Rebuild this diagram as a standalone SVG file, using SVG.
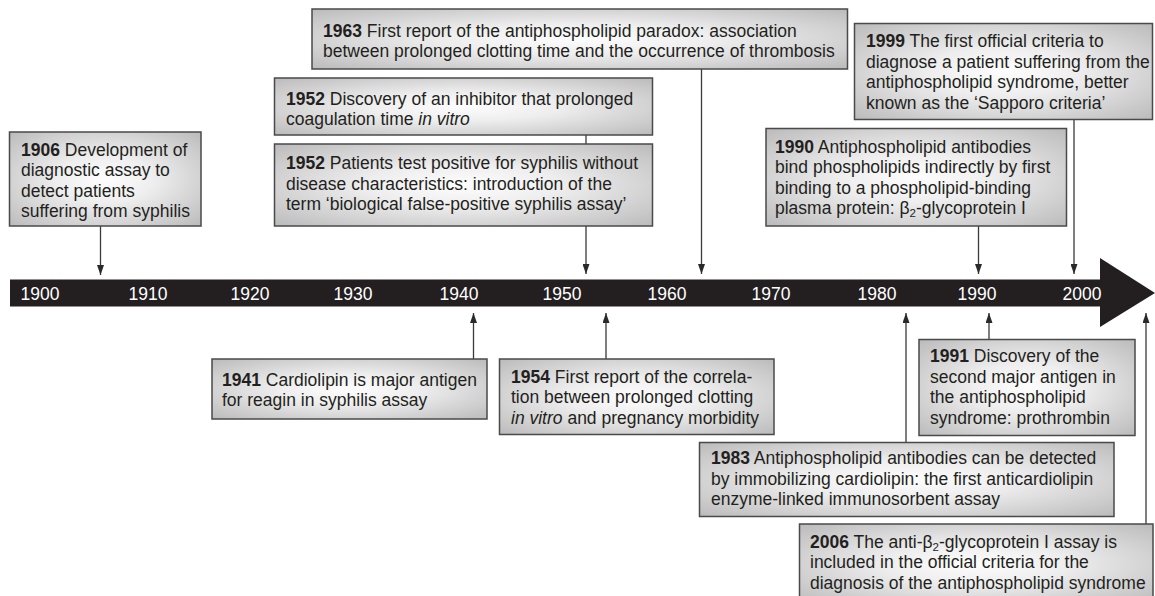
<svg xmlns="http://www.w3.org/2000/svg" width="1155" height="596" viewBox="0 0 1155 596">
<style>
.box{fill:url(#g);stroke:#4a4a4a;stroke-width:1.5}
.t{font-family:"Liberation Sans",Arial,sans-serif;font-size:17.5px;fill:#231f20}
.b{font-weight:bold}
.i{font-style:italic}
.sub{font-size:11.5px}
.yr{font-family:"Liberation Sans",Arial,sans-serif;font-size:17.5px;fill:#ffffff;text-anchor:middle}
.c{stroke:#3a3a3a;stroke-width:1.3;fill:none}
.ca{stroke:#3a3a3a;stroke-width:1.3;fill:none;marker-end:url(#ah)}
</style>
<defs>
<radialGradient id="g" cx="50%" cy="50%" r="72%">
<stop offset="0" stop-color="#fdfdfd"/>
<stop offset="0.35" stop-color="#eeeeee"/>
<stop offset="1" stop-color="#b9b9b9"/>
</radialGradient>
<marker id="ah" markerWidth="10" markerHeight="7" refX="10" refY="3.5" orient="auto" markerUnits="userSpaceOnUse">
<path d="M0,0 L10,3.5 L0,7 z" fill="#2a2a2a"/>
</marker>
</defs>

<g id="timeline">
<rect x="10" y="279.5" width="1091" height="27" fill="#231f20"/>
<polygon points="1100,258 1155,293 1100,327" fill="#231f20"/>
<text class="yr" x="40" y="300">1900</text>
<text class="yr" x="148" y="300">1910</text>
<text class="yr" x="250" y="300">1920</text>
<text class="yr" x="353" y="300">1930</text>
<text class="yr" x="459" y="300">1940</text>
<text class="yr" x="562" y="300">1950</text>
<text class="yr" x="667" y="300">1960</text>
<text class="yr" x="771" y="300">1970</text>
<text class="yr" x="877" y="300">1980</text>
<text class="yr" x="977" y="300">1990</text>
<text class="yr" x="1082" y="300">2000</text>
</g>

<g id="connectors">
<line class="ca" x1="100.5" y1="226" x2="100.5" y2="275"/>
<line class="c" x1="586" y1="135" x2="586" y2="144"/>
<line class="ca" x1="586" y1="226" x2="586" y2="274"/>
<line class="ca" x1="701.5" y1="69" x2="701.5" y2="274"/>
<line class="ca" x1="978.5" y1="226" x2="978.5" y2="274"/>
<line class="ca" x1="1074" y1="119.5" x2="1074" y2="274"/>
<line class="ca" x1="473.5" y1="359" x2="473.5" y2="313"/>
<line class="ca" x1="606" y1="359" x2="606" y2="313"/>
<line class="ca" x1="906" y1="442.5" x2="906" y2="313"/>
<line class="ca" x1="989" y1="339.5" x2="989" y2="313"/>
<line class="ca" x1="1146" y1="524" x2="1146" y2="313"/>
</g>

<g id="n1906">
<rect class="box" x="9.5" y="132" width="191.5" height="94"/>
<text class="t" x="21" y="155.5"><tspan class="b">1906</tspan> Development of</text>
<text class="t" x="21" y="176">diagnostic assay to</text>
<text class="t" x="21" y="196.5">detect patients</text>
<text class="t" x="21" y="217">suffering from syphilis</text>
</g>

<g id="n1963">
<rect class="box" x="312" y="9" width="535.5" height="60"/>
<text class="t" x="323" y="36.5"><tspan class="b">1963</tspan> First report of the antiphospholipid paradox: association</text>
<text class="t" x="323" y="57">between prolonged clotting time and the occurrence of thrombosis</text>
</g>

<g id="n1952a">
<rect class="box" x="274.5" y="78" width="378" height="57"/>
<text class="t" x="286" y="104.5"><tspan class="b">1952</tspan> Discovery of an inhibitor that prolonged</text>
<text class="t" x="286" y="125">coagulation time <tspan class="i">in vitro</tspan></text>
</g>

<g id="n1952b">
<rect class="box" x="274.5" y="144" width="378" height="82"/>
<text class="t" x="286" y="169"><tspan class="b">1952</tspan> Patients test positive for syphilis without</text>
<text class="t" x="286" y="189.5">disease characteristics: introduction of the</text>
<text class="t" x="286" y="210">term ‘biological false-positive syphilis assay’</text>
</g>

<g id="n1999">
<rect class="box" x="854.5" y="23.5" width="298" height="96"/>
<text class="t" x="866" y="47"><tspan class="b">1999</tspan> The first official criteria to</text>
<text class="t" x="866" y="67.5">diagnose a patient suffering from the</text>
<text class="t" x="866" y="88">antiphospholipid syndrome, better</text>
<text class="t" x="866" y="108.5">known as the ‘Sapporo criteria’</text>
</g>

<g id="n1990">
<rect class="box" x="766" y="128.5" width="300.5" height="97.5"/>
<text class="t" x="775" y="152.5"><tspan class="b">1990</tspan> Antiphospholipid antibodies</text>
<text class="t" x="775" y="173">bind phospholipids indirectly by first</text>
<text class="t" x="775" y="193.5">binding to a phospholipid-binding</text>
<text class="t" x="775" y="214">plasma protein: β<tspan class="sub" dy="3">2</tspan><tspan dy="-3">-glycoprotein I</tspan></text>
</g>

<g id="n1941">
<rect class="box" x="212" y="359" width="275" height="60"/>
<text class="t" x="222" y="385.5"><tspan class="b">1941</tspan> Cardiolipin is major antigen</text>
<text class="t" x="222" y="406">for reagin in syphilis assay</text>
</g>

<g id="n1954">
<rect class="box" x="499.5" y="359" width="274.5" height="75.5"/>
<text class="t" x="511" y="382.5"><tspan class="b">1954</tspan> First report of the correla-</text>
<text class="t" x="511" y="403">tion between prolonged clotting</text>
<text class="t" x="511" y="423.5"><tspan class="i">in vitro</tspan> and pregnancy morbidity</text>
</g>

<g id="n1991">
<rect class="box" x="919" y="339.5" width="216" height="96"/>
<text class="t" x="930" y="362"><tspan class="b">1991</tspan> Discovery of the</text>
<text class="t" x="930" y="382.5">second major antigen in</text>
<text class="t" x="930" y="403">the antiphospholipid</text>
<text class="t" x="930" y="423.5">syndrome: prothrombin</text>
</g>

<g id="n1983">
<rect class="box" x="699.5" y="442.5" width="414.5" height="74"/>
<text class="t" x="711" y="464"><tspan class="b">1983</tspan> Antiphospholipid antibodies can be detected</text>
<text class="t" x="711" y="484.5">by immobilizing cardiolipin: the first anticardiolipin</text>
<text class="t" x="711" y="505">enzyme-linked immunosorbent assay</text>
</g>

<g id="n2006">
<rect class="box" x="799.5" y="524" width="353.5" height="80"/>
<text class="t" x="810" y="547.5"><tspan class="b">2006</tspan> The anti-β<tspan class="sub" dy="3">2</tspan><tspan dy="-3">-glycoprotein I assay is</tspan></text>
<text class="t" x="810" y="568">included in the official criteria for the</text>
<text class="t" x="810" y="588.5">diagnosis of the antiphospholipid syndrome</text>
</g>
</svg>
